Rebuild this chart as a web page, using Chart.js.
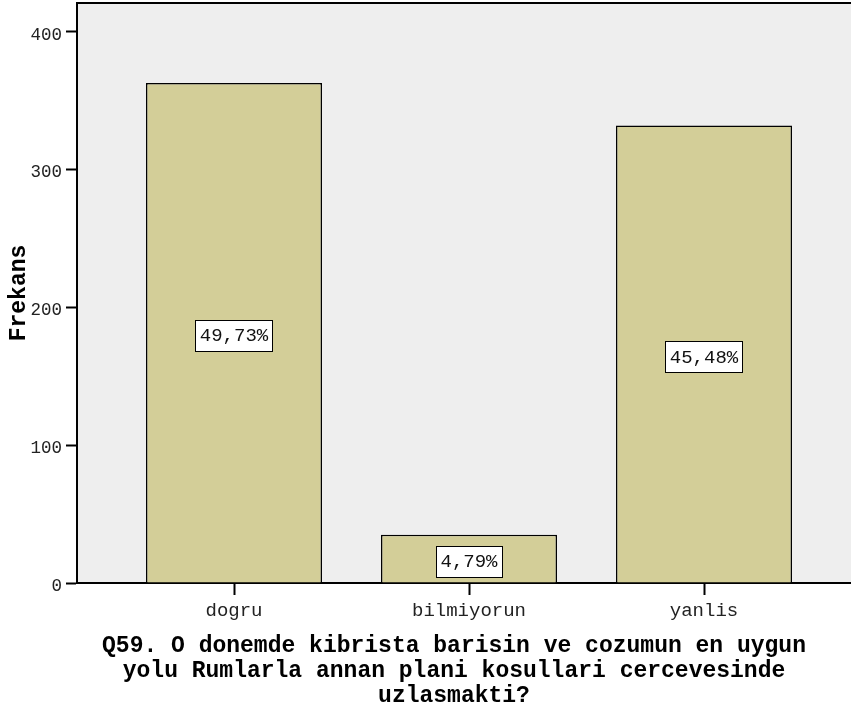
<!DOCTYPE html>
<html><head><meta charset="utf-8">
<script src="https://cdn.jsdelivr.net/npm/chart.js@4/dist/chart.umd.min.js"></script>
<style>html,body{margin:0;padding:0;background:#fff;overflow:hidden}#wrap{width:851px;height:708px;position:relative}</style>
</head><body><div id="wrap"><canvas id="c" width="851" height="708"></canvas></div>
<script>
const categories = ['dogru', 'bilmiyorun', 'yanlis'];
const frequencies = [363, 35, 332];
const percentLabels = ['49,73%', '4,79%', '45,48%'];
const yTickValues = [0, 100, 200, 300, 400];
const yAxisTitle = 'Frekans';
const xAxisTitleLines = [
  'Q59. O donemde kibrista barisin ve cozumun en uygun',
  'yolu Rumlarla annan plani kosullari cercevesinde',
  'uzlasmakti?'
];

const FONT = '"Liberation Mono", "Courier New", monospace';
Chart.defaults.font.family = FONT;

const plotBg = {
  id: 'plotBg',
  beforeDraw(chart) {
    const {ctx, chartArea: a} = chart;
    ctx.save();
    ctx.fillStyle = '#eeeeee';
    ctx.fillRect(a.left, a.top, a.right - a.left, a.bottom - a.top);
    ctx.restore();
  },
  afterDatasetsDraw(chart) {
    const {ctx, chartArea: a} = chart;
    ctx.save();
    ctx.strokeStyle = '#000';
    ctx.lineWidth = 2;
    ctx.beginPath();
    ctx.moveTo(a.left, a.top);
    ctx.lineTo(a.right, a.top);
    ctx.stroke();
    ctx.restore();
  }
};

const pctLabels = {
  id: 'pctLabels',
  afterDatasetsDraw(chart) {
    const {ctx} = chart;
    const meta = chart.getDatasetMeta(0);
    ctx.save();
    ctx.font = '19px ' + FONT;
    ctx.textAlign = 'center';
    ctx.textBaseline = 'middle';
    meta.data.forEach((el, i) => {
      const txt = percentLabels[i];
      const w = ctx.measureText(txt).width + 9;
      const h = 31;
      const cx = el.x;
      const cy = (el.y + el.base) / 2 + 2.5;
      const x0 = Math.round(cx - w / 2) + 0.5;
      const y0 = Math.round(cy - h / 2) + 0.5;
      ctx.fillStyle = '#ffffff';
      ctx.fillRect(x0, y0, Math.round(w), h);
      ctx.strokeStyle = '#000';
      ctx.lineWidth = 1;
      ctx.strokeRect(x0, y0, Math.round(w), h);
      ctx.fillStyle = '#111';
      ctx.fillText(txt, cx, cy + 1);
    });
    ctx.restore();
  }
};

const bottomTitle = {
  id: 'bottomTitle',
  afterDraw(chart) {
    const {ctx} = chart;
    ctx.save();
    ctx.font = 'bold 23px ' + FONT;
    ctx.fillStyle = '#000';
    ctx.textAlign = 'center';
    ctx.textBaseline = 'middle';
    xAxisTitleLines.forEach((line, i) => {
      ctx.fillText(line, 454, 646 + i * 25);
    });
    ctx.restore();
  }
};

new Chart(document.getElementById('c'), {
  type: 'bar',
  data: {
    datasets: [{
      data: frequencies.map((v, i) => ({x: i + 1, y: v})),
      backgroundColor: '#d3ce98',
      borderColor: '#000',
      borderWidth: 1.5,
      barPercentage: 0.749,
      categoryPercentage: 1
    }]
  },
  options: {
    responsive: false,
    devicePixelRatio: 1,
    animation: false,
    layout: {padding: {top: 3, left: 0, right: 0, bottom: 0}},
    plugins: {legend: {display: false}, tooltip: {enabled: false}, title: {display: false}},
    scales: {
      x: {
        type: 'linear',
        offset: false,
        min: 0.3319,
        max: 3.6255,
        afterBuildTicks(scale) { scale.ticks = categories.map((c, i) => ({value: i + 1})); },
        afterFit(scale) { scale.height = 125; scale.paddingLeft = 0; scale.paddingRight = 0; },
        ticks: {
          autoSkip: false, maxRotation: 0, padding: 5,
          font: {size: 19}, color: '#222',
          callback: (v) => categories[v - 1] ?? ''
        },
        grid: {offset: false, drawOnChartArea: false, drawTicks: true, tickLength: 12, tickColor: '#000', tickWidth: 2},
        border: {display: true, color: '#000', width: 2}
      },
      y: {
        type: 'linear',
        min: 0,
        max: 421,
        afterBuildTicks(scale) { scale.ticks = yTickValues.map(v => ({value: v})); },
        afterFit(scale) { scale.width = 77; scale.paddingTop = 0; scale.paddingBottom = 0; },
        ticks: {padding: 4, font: {size: 17.5}, color: '#222', labelOffset: 3},
        grid: {drawOnChartArea: false, drawTicks: true, tickLength: 11, tickColor: '#000', tickWidth: 2},
        border: {display: true, color: '#000', width: 2},
        title: {display: true, text: yAxisTitle, font: {size: 23, weight: 'bold'}, color: '#000', padding: {top: 5, bottom: 0}}
      }
    }
  },
  plugins: [plotBg, pctLabels, bottomTitle]
});
</script>
</body></html>
